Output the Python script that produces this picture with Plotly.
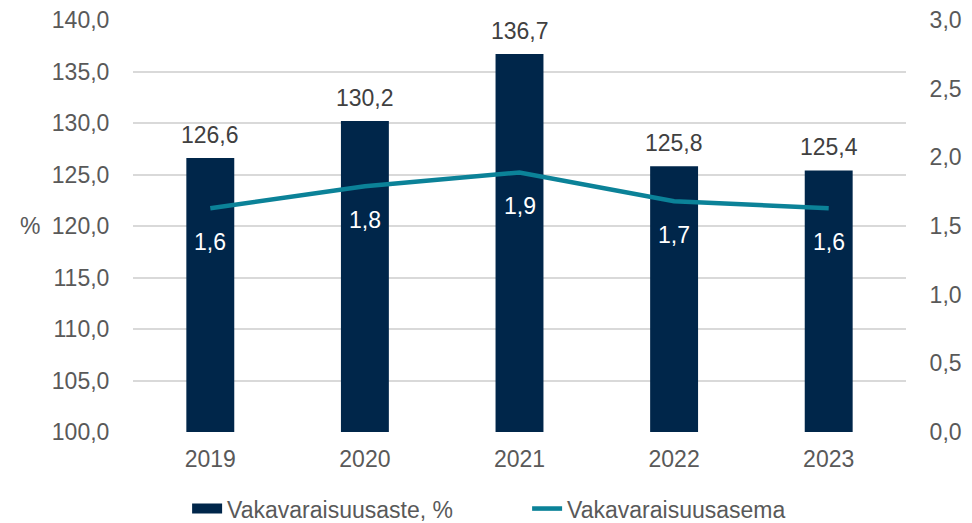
import plotly.graph_objects as go

years = ["2019", "2020", "2021", "2022", "2023"]
solvency_ratio = [126.6, 130.2, 136.7, 125.8, 125.4]
solvency_position = [1.63, 1.79, 1.89, 1.68, 1.63]
position_labels = ["1,6", "1,8", "1,9", "1,7", "1,6"]

BAR = "#00264A"
LINE = "#0B8298"
TICK = "#595959"
LABEL = "#404040"
FONT = "Liberation Sans, Arial, sans-serif"
FS = 23

fig = go.Figure()
fig.add_trace(go.Bar(
    x=years, y=solvency_ratio, name="Vakavaraisuusaste, %",
    marker=dict(color=BAR, line=dict(width=0)), width=0.31,
    yaxis="y", showlegend=False,
))
# legend-only entry drawn as a wide block like the reference legend swatch
fig.add_trace(go.Scatter(
    x=[None], y=[None], name="Vakavaraisuusaste, %", mode="lines",
    line=dict(color=BAR, width=13), yaxis="y",
))
fig.add_trace(go.Scatter(
    x=years, y=solvency_position, name="Vakavaraisuusasema",
    mode="lines", line=dict(color=LINE, width=4.5),
    yaxis="y2",
))

annotations = []
for i, v in enumerate(solvency_ratio):
    annotations.append(dict(
        x=i, y=v, xref="x", yref="y", text=f"{v:.1f}".replace(".", ","),
        showarrow=False, yanchor="bottom", yshift=8,
        font=dict(size=FS, color=LABEL, family=FONT),
    ))
for i, (v, t) in enumerate(zip(solvency_position, position_labels)):
    annotations.append(dict(
        x=i, y=v, xref="x", yref="y2", text=t,
        showarrow=False, yanchor="middle", yshift=-34,
        font=dict(size=FS, color="white", family=FONT),
    ))
annotations.append(dict(
    x=-0.133, y=0.5, xref="paper", yref="paper", text="%",
    showarrow=False, xanchor="center", yanchor="middle",
    font=dict(size=FS, color=TICK, family=FONT),
))

fig.update_layout(
    width=972, height=523,
    margin=dict(l=133, r=66, t=20, b=91, autoexpand=False),
    paper_bgcolor="white", plot_bgcolor="white",
    separators=", ",
    font=dict(family=FONT, size=FS, color=TICK),
    showlegend=True,
    legend=dict(
        orientation="h", x=0.07, xanchor="left", y=-0.186, yanchor="middle",
        font=dict(size=FS, color=TICK), traceorder="normal",
        entrywidth=295,
    ),
    xaxis=dict(
        type="category", range=[-0.5, 4.5], showgrid=False, showline=False,
        ticks="outside", ticklen=6, tickcolor="rgba(0,0,0,0)",
        tickfont=dict(size=FS, color=TICK),
    ),
    yaxis=dict(
        range=[100, 140], dtick=5, tickformat=".1f",
        showgrid=True, gridcolor="#D9D9D9", gridwidth=1.5,
        zeroline=False, showline=False, ticks="outside", ticklen=18,
        tickcolor="rgba(0,0,0,0)", ticklabeloverflow="allow",
        tickfont=dict(size=FS, color=TICK),
    ),
    yaxis2=dict(
        range=[0, 3], dtick=0.5, tickformat=".1f", overlaying="y", side="right",
        showgrid=False, zeroline=False, showline=False, ticks="outside", ticklen=18,
        tickcolor="rgba(0,0,0,0)", ticklabeloverflow="allow",
        tickfont=dict(size=FS, color=TICK),
    ),
    annotations=annotations,
)

# remove the default 8px page margin so the 972x523 figure fills the window
fig.write_html(
    "out.html",
    config={"displayModeBar": False},
    post_script="document.body.style.margin='0';document.body.style.overflow='hidden';",
)
